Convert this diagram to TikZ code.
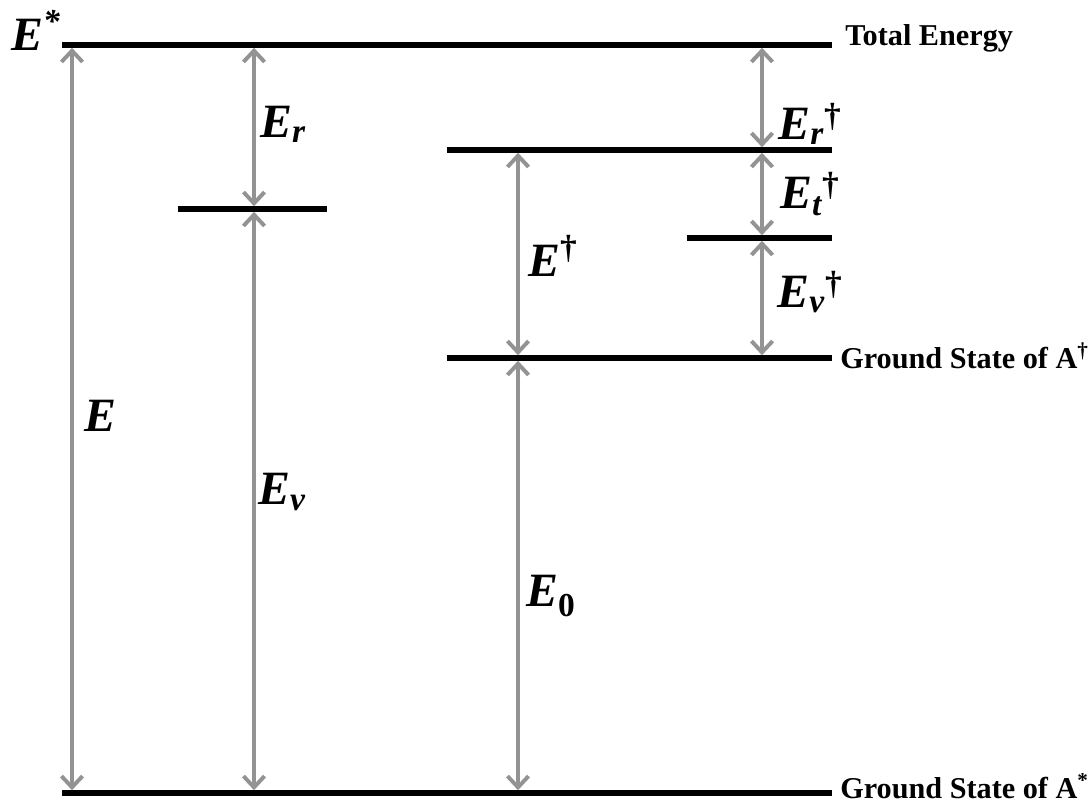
\documentclass[tikz,border=0pt]{standalone}
\usepackage{amsmath}
\usepackage{fontspec}
\setmainfont{Liberation Serif}
\usetikzlibrary{arrows.meta}

\tikzset{
  level/.style={line width=3.6pt},
  gap/.style={line width=3.3pt, gray!85, {Straight Barb[length=8pt,width=15pt,line width=2.8pt]}-{Straight Barb[length=8pt,width=15pt,line width=2.8pt]}, shorten <=2pt, shorten >=2pt},
  sym/.style={font=\fontsize{34}{34}\selectfont\bfseries\itshape, inner sep=0pt},
  tag/.style={font=\fontsize{21.5}{21.5}\selectfont\bfseries, anchor=west, inner sep=0pt}
}

\begin{document}
\begin{tikzpicture}[x=0.025cm, y=-0.025cm]
    \useasboundingbox (0,0) rectangle (1091,804);

    % Energy levels
    \draw[level] (62,45) -- (832,45);
    \draw[level] (178,209) -- (327,209);
    \draw[level] (447,150) -- (832,150);
    \draw[level] (687,238) -- (832,238);
    \draw[level] (447,358) -- (832,358);
    \draw[level] (62,793) -- (832,793);

    % Arrow end points
    \coordinate (eTop) at (72,45);   \coordinate (eBot) at (72,793);
    \coordinate (vTop) at (254,45);  \coordinate (vMid) at (254,209); \coordinate (vBot) at (254,793);
    \coordinate (bTop) at (518,150); \coordinate (bMid) at (518,358); \coordinate (bBot) at (518,793);
    \coordinate (dTop) at (762,45);  \coordinate (dA) at (762,150);
    \coordinate (dB) at (762,238);   \coordinate (dBot) at (762,358);

    % Gaps
    \draw[gap] (eTop) -- (eBot);
    \draw[gap] (vTop) -- (vMid);
    \draw[gap] (vMid) -- (vBot);
    \draw[gap] (bTop) -- (bMid);
    \draw[gap] (bMid) -- (bBot);
    \draw[gap] (dTop) -- (dA);
    \draw[gap] (dA) -- (dB);
    \draw[gap] (dB) -- (dBot);

    % Symbols
    \node[sym] (Estar) at (36,30) {$\text{E}^{\text{*}}$};
    \node[sym] (Etot) at (100,416) {E};
    \node[sym] (Er) at (283,124) {$\text{E}_{\text{r}}$};
    \node[sym] (Ev) at (282,492) {$\text{E}_{\text{v}}$};
    \node[sym] (Edag) at (553,256) {$\text{E}^{\text{\upshape †}}$};
    \node[sym] (E0) at (551,596) {$\text{E}_{\text{\upshape 0}}$};
    \node[sym] (Erd) at (810,124) {$\text{E}_{\text{r}}{}^{\text{\upshape †}}$};
    \node[sym] (Etd) at (810,194) {$\text{E}_{\text{t}}{}^{\text{\upshape †}}$};
    \node[sym] (Evd) at (810,292) {$\text{E}_{\text{v}}{}^{\text{\upshape †}}$};

    % Level names
    \node[tag] (total) at (845,38) {Total Energy};
    \node[tag] (gsB) at (840,356) {Ground State of A$^{\text{†}}$};
    \node[tag] (gsA) at (840,786) {Ground State of A$^{\text{*}}$};
\end{tikzpicture}
\end{document}
